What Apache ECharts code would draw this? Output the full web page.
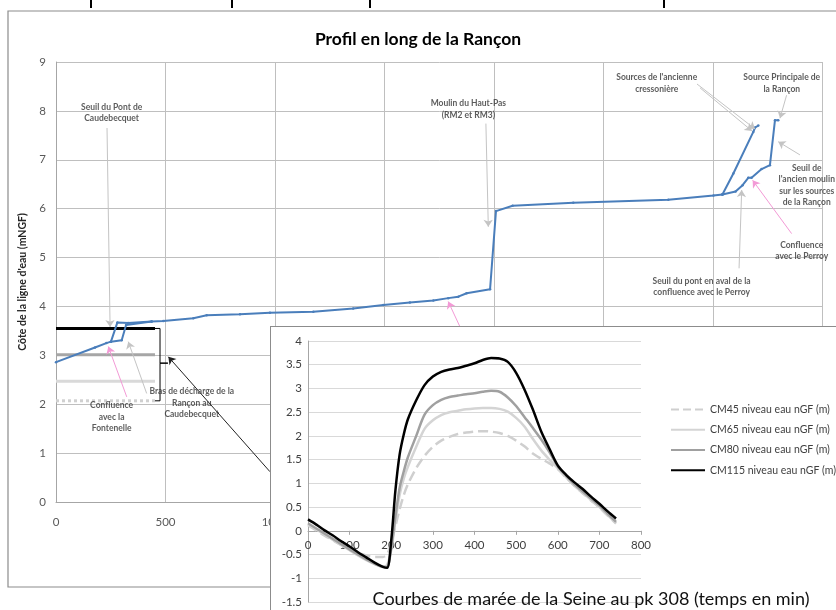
<!DOCTYPE html>
<html>
<head>
<meta charset="utf-8">
<script src="https://cdn.jsdelivr.net/npm/echarts@6/dist/echarts.min.js"></script>
<style>
  body { margin: 0; background: #fff; overflow: hidden; }
  #main { position: absolute; left: 0; top: 0; width: 836px; height: 610px; }
  #inset { position: absolute; left: 270px; top: 326px; width: 566px; height: 284px;
           background: #fff; border-left: 1px solid #8c8c8c; border-top: 1px solid #8c8c8c; }
</style>
</head>
<body>
<div id="main"></div>
<div id="inset"></div>
<script>
  // ---- profil en long (distance en m, cote en mNGF)
  var profX = [0, 178, 230, 251, 280, 330, 437, 490, 627, 688, 840, 977, 1175, 1357, 1495, 1616, 1723, 1791, 1837, 1875, 1982, 2009, 2085, 2362, 2796, 3002, 3043];
  var profY = [2.86, 3.16, 3.25, 3.28, 3.67, 3.66, 3.69, 3.70, 3.76, 3.82, 3.84, 3.87, 3.89, 3.96, 4.03, 4.08, 4.12, 4.17, 4.20, 4.27, 4.35, 5.95, 6.06, 6.12, 6.18, 6.27, 6.29];

  // bras de décharge (boucle du Caudebecquet)
  var brasX = [251, 300, 320, 437];
  var brasY = [3.28, 3.31, 3.62, 3.69];

  // branche vers les sources de l'ancienne cressonière
  var cressX = [3043, 3093, 3184, 3192, 3207];
  var cressY = [6.29, 6.72, 7.57, 7.66, 7.70];

  // branche vers la source principale
  var sourceX = [3043, 3103, 3135, 3161, 3176, 3222, 3260, 3283, 3298];
  var sourceY = [6.29, 6.35, 6.48, 6.63, 6.63, 6.81, 6.89, 7.81, 7.81];

  // niveaux max de marée reportés sur le profil
  var levelNames = ['CM45', 'CM65', 'CM80', 'CM115'];
  var levelVals = [2.07, 2.47, 3.01, 3.55];
  var levelEnd = 452;

  // accolade
  var braceX = [452, 475, 475, 511, 475, 475, 452];
  var braceY = [3.55, 3.55, 2.84, 2.84, 2.84, 2.07, 2.07];

  // ---- courbes de marée (temps en min, niveau en m nGF)
  var tideT = [0, 20, 40, 60, 80, 100, 120, 140, 160, 180, 190, 200, 210, 220, 230, 240, 260, 280, 300, 320, 340, 360, 380, 400, 420, 440, 460, 480, 500, 520, 540, 560, 580, 600, 620, 640, 660, 680, 700, 720, 740];
  var cm45 = [0.12, 0.01, -0.10, -0.20, -0.30, -0.39, -0.46, -0.52, -0.55, -0.55, -0.50, -0.25, 0.10, 0.45, 0.75, 0.98, 1.32, 1.58, 1.77, 1.90, 1.98, 2.04, 2.07, 2.09, 2.10, 2.09, 2.06, 2.00, 1.90, 1.78, 1.63, 1.52, 1.42, 1.30, 1.12, 0.95, 0.79, 0.64, 0.49, 0.32, 0.15];
  var cm65 = [0.14, 0.03, -0.08, -0.19, -0.30, -0.41, -0.52, -0.62, -0.70, -0.75, -0.72, -0.40, 0.20, 0.75, 1.10, 1.35, 1.77, 2.15, 2.33, 2.44, 2.50, 2.53, 2.56, 2.58, 2.59, 2.59, 2.57, 2.51, 2.38, 2.20, 1.94, 1.70, 1.50, 1.32, 1.13, 0.95, 0.80, 0.65, 0.50, 0.33, 0.16];
  var cm80 = [0.16, 0.05, -0.06, -0.17, -0.28, -0.39, -0.50, -0.60, -0.69, -0.76, -0.76, -0.35, 0.30, 0.90, 1.25, 1.55, 2.00, 2.45, 2.65, 2.76, 2.82, 2.85, 2.88, 2.90, 2.93, 2.95, 2.93, 2.81, 2.63, 2.40, 2.17, 1.93, 1.66, 1.36, 1.16, 0.98, 0.83, 0.68, 0.53, 0.36, 0.19];
  var cm115 = [0.24, 0.13, 0.01, -0.10, -0.22, -0.33, -0.45, -0.56, -0.67, -0.76, -0.78, -0.20, 0.85, 1.60, 2.03, 2.35, 2.75, 3.07, 3.25, 3.35, 3.40, 3.43, 3.48, 3.53, 3.60, 3.64, 3.63, 3.56, 3.33, 2.98, 2.56, 2.10, 1.73, 1.38, 1.18, 1.02, 0.88, 0.72, 0.57, 0.41, 0.26];

  // ---- annotations (position en coordonnées du graphique)
  var noteText = [
    'Seuil du Pont de\nCaudebecquet',
    'Moulin du Haut-Pas\n(RM2 et RM3)',
    "Sources de l'ancienne\ncressonière",
    'Source Principale de\nla Rançon',
    "Seuil de\nl'ancien moulin\nsur les sources\nde la Rançon",
    'Confluence\navec le Perroy',
    'Seuil du pont en aval de la\nconfluence avec le Perroy',
    'Confluence\navec la\nFontenelle',
    'Bras de décharge de la\nRançon au\nCaudebecquet'
  ];
  var noteX = [254, 1883, 2743, 3314, 3428, 3405, 2948, 254, 620];
  var noteY = [7.96, 8.03, 8.56, 8.56, 6.48, 5.14, 4.40, 1.74, 2.02];

  var arrowFrom = [[233, 7.65], [1963, 7.74], [2927, 8.55], [2941, 8.47], [3336, 8.32], [3397, 7.10], [3359, 5.49], [3119, 4.78], [323, 2.15], [414, 2.22], [1845, 3.58], [977, 0.62]];
  var arrowTo = [[247, 3.58], [1974, 5.63], [3192, 7.63], [3178, 7.59], [3306, 7.85], [3298, 7.37], [3181, 6.58], [3131, 6.38], [239, 3.18], [330, 3.28], [1791, 4.10], [513, 2.97]];
  var arrowColor = ['#c4c4c4', '#c4c4c4', '#c4c4c4', '#c4c4c4', '#c4c4c4', '#c4c4c4', '#f39ad6', '#c4c4c4', '#f39ad6', '#c4c4c4', '#f39ad6', '#222'];

  function pairs(xs, ys) {
    return xs.map(function (x, i) { return [x, ys[i]]; });
  }

  var font = 'Lato, "Open Sans", sans-serif';
  var blue = '#4a7ebb';

  var mainChart = echarts.init(document.getElementById('main'), null, { renderer: 'canvas' });

  var levelColors = ['#d0d0d0', '#d9d9d9', '#a6a6a6', '#000'];
  var levelTypes = ['dotted', 'solid', 'solid', 'solid'];

  var mainSeries = [];
  levelVals.forEach(function (v, i) {
    mainSeries.push({
      name: levelNames[i], type: 'line', symbol: 'none',
      data: [[0, v], [levelEnd, v]],
      lineStyle: { color: levelColors[i], width: 3, type: levelTypes[i] }, z: 2
    });
  });
  mainSeries.push({
    type: 'line', symbol: 'none', data: pairs(braceX, braceY),
    lineStyle: { color: '#000', width: 1 }, z: 2
  });
  [pairs(profX, profY), pairs(brasX, brasY), pairs(cressX, cressY), pairs(sourceX, sourceY)].forEach(function (d) {
    mainSeries.push({
      type: 'line', data: d, symbol: 'circle', symbolSize: 2.5,
      itemStyle: { color: blue }, lineStyle: { color: blue, width: 2 }, z: 3
    });
  });
  mainSeries.push({
    type: 'scatter', symbolSize: 0, z: 5,
    data: noteText.map(function (t, i) { return { name: t, value: [noteX[i], noteY[i]] }; }),
    label: {
      show: true, position: 'inside', formatter: '{b}', align: 'center',
      fontFamily: font, fontSize: 8.5, fontWeight: 'bold', color: '#333', lineHeight: 11.5
    },
    markLine: {
      silent: true, symbol: ['none', 'arrow'], symbolSize: 7, animation: false,
      label: { show: false },
      data: arrowFrom.map(function (a, i) {
        return [
          { coord: a, lineStyle: { color: arrowColor[i], width: 1, type: 'solid' } },
          { coord: arrowTo[i] }
        ];
      })
    }
  });

  var mainOptions = {
    animation: false,
    backgroundColor: '#fff',
    title: {
      text: 'Profil en long de la Rançon', left: 'center', top: 25,
      textStyle: { fontFamily: font, fontSize: 17.5, fontWeight: 'bold', color: '#000' }
    },
    graphic: [
      { type: 'rect', shape: { x: 8, y: 11, width: 840, height: 576 },
        style: { fill: null, stroke: '#8c8c8c', lineWidth: 1.2 }, z: -1 },
      { type: 'line', shape: { x1: 91, y1: 0, x2: 91, y2: 8 }, style: { stroke: '#000', lineWidth: 2 } },
      { type: 'line', shape: { x1: 232, y1: 0, x2: 232, y2: 8 }, style: { stroke: '#000', lineWidth: 2 } },
      { type: 'line', shape: { x1: 370, y1: 0, x2: 370, y2: 8 }, style: { stroke: '#000', lineWidth: 2 } },
      { type: 'line', shape: { x1: 664, y1: 0, x2: 664, y2: 8 }, style: { stroke: '#000', lineWidth: 2 } }
    ],
    grid: { left: 56, top: 62, width: 766.5, height: 440, outerBoundsMode: 'none' },
    xAxis: {
      type: 'value', min: 0, max: 3500, interval: 500,
      axisLine: { show: true, lineStyle: { color: '#a6a6a6' } },
      axisTick: { show: false },
      splitLine: { show: true, lineStyle: { color: '#bfbfbf' } },
      axisLabel: { fontFamily: font, fontSize: 11.5, color: '#595959', margin: 14,
                   formatter: function (v) { return String(v); } }
    },
    yAxis: {
      type: 'value', min: 0, max: 9, interval: 1,
      name: "Côte de la ligne d'eau (mNGF)", nameLocation: 'middle', nameGap: 26,
      nameTextStyle: { fontFamily: font, fontSize: 10.5, fontWeight: 'bold', color: '#262626' },
      axisLine: { show: true, lineStyle: { color: '#a6a6a6' } },
      axisTick: { show: false },
      splitLine: { show: true, lineStyle: { color: '#bfbfbf' } },
      axisLabel: { fontFamily: font, fontSize: 11.5, color: '#595959', margin: 10 }
    },
    series: mainSeries
  };

  mainChart.setOption(mainOptions);

  // ---- encart : courbes de marée
  var insetChart = echarts.init(document.getElementById('inset'), null, { renderer: 'canvas' });

  var tideNames = ['CM45 niveau eau nGF (m)', 'CM65 niveau eau nGF (m)', 'CM80 niveau eau nGF (m)', 'CM115 niveau eau nGF (m)'];
  var tideColors = ['#cfcfcf', '#d4d4d4', '#a0a0a0', '#000'];
  var tideTypes = ['dashed', 'solid', 'solid', 'solid'];
  var tideSeries = [cm45, cm65, cm80, cm115];

  var gridH = 261;
  var yMin = -1.5, yMax = 4;

  var insetOptions = {
    animation: false,
    backgroundColor: '#fff',
    grid: { left: 37, top: 14, width: 333, height: gridH, outerBoundsMode: 'none' },
    legend: {
      orient: 'vertical', left: 394, top: 72, itemWidth: 34, itemHeight: 14, itemGap: 9,
      itemStyle: { opacity: 0 },
      textStyle: { fontFamily: font, fontSize: 10.5, color: '#404040' },
      data: tideNames
    },
    graphic: [{
      type: 'text', x: 320, y: 272,
      style: {
        text: 'Courbes de marée de la Seine au pk 308 (temps en min)',
        font: '18px Lato, sans-serif', fill: '#111', align: 'center', verticalAlign: 'middle'
      }, z: 10
    }],
    xAxis: {
      type: 'value', min: 0, max: 800, interval: 100,
      position: 'bottom', offset: -(0 - yMin) / (yMax - yMin) * gridH,
      axisLine: { onZero: false, lineStyle: { color: '#a6a6a6' } },
      axisTick: { show: true, length: 4, lineStyle: { color: '#a6a6a6' } },
      splitLine: { show: false },
      axisLabel: { fontFamily: font, fontSize: 11.5, color: '#404040', margin: 8 }
    },
    yAxis: {
      type: 'value', min: yMin, max: yMax, interval: 0.5,
      axisLine: { show: true, lineStyle: { color: '#a6a6a6' } },
      axisTick: { show: false },
      splitLine: { show: true, lineStyle: { color: '#d9d9d9' } },
      axisLabel: { fontFamily: font, fontSize: 11.5, color: '#404040', margin: 6 }
    },
    series: tideSeries.map(function (vals, i) {
      return {
        name: tideNames[i], type: 'line', symbol: 'none', smooth: 0.3,
        data: pairs(tideT, vals),
        itemStyle: { color: tideColors[i] },
        lineStyle: { color: tideColors[i], width: 2.5, type: tideTypes[i] },
        z: 2 + i
      };
    })
  };

  insetChart.setOption(insetOptions);

  window.addEventListener('resize', function () {
    mainChart.resize();
    insetChart.resize();
  });
</script>
</body>
</html>
